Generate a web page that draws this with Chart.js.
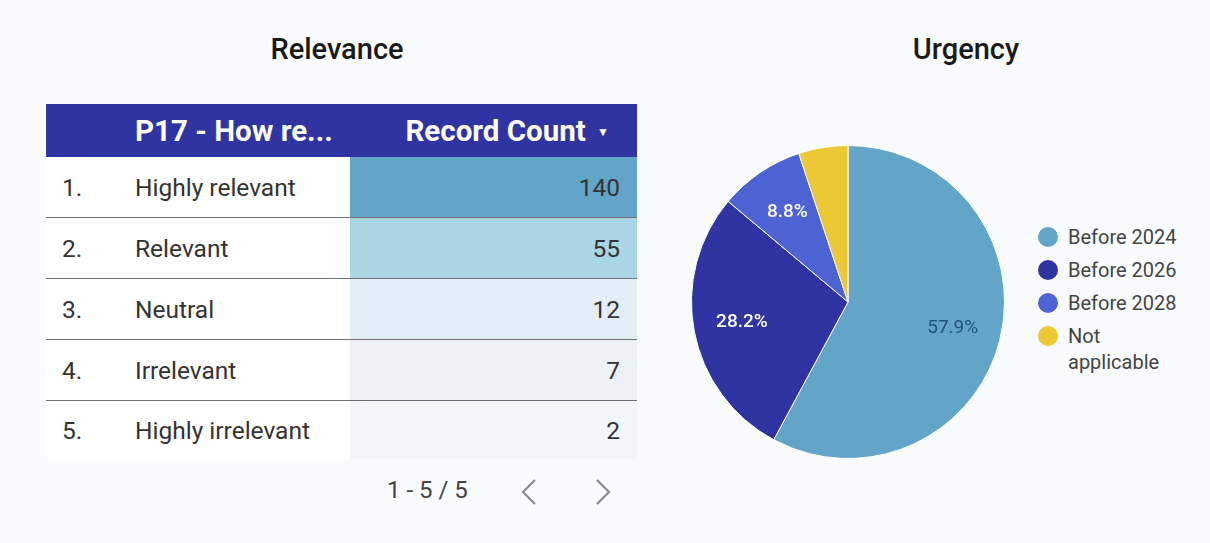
<!DOCTYPE html>
<html>
<head>
<meta charset="utf-8">
<script src="https://cdn.jsdelivr.net/npm/chart.js@4"></script>
<style>
  html, body { margin: 0; padding: 0; }
  body {
    width: 1210px; height: 543px; background: #f9fbfd; position: relative;
    font-family: Roboto, "Noto Sans", sans-serif; overflow: hidden;
  }
  .title { position: absolute; top: 32px; width: 300px; margin-left: -150px; text-align: center;
           font-size: 29px; font-weight: 500; color: #1a1a1a; }
  #tbl { position: absolute; left: 46px; top: 104px; width: 591px; border-collapse: collapse; table-layout: fixed; }
  #tbl th { background: #3034a3; color: #fff; font-weight: 700; font-size: 29.5px; height: 53px; padding: 0;
            white-space: nowrap; }
  #tbl td { height: 60px; padding: 0; font-size: 24.5px; color: #333; background: #fff; border-bottom: 1px solid #707070; }
  #tbl tr:last-child td { border-bottom: none; height: 58px; }
  .idx { padding-left: 16px !important; }
  .cnt { text-align: right; padding-right: 17px !important; }
  .pager { position: absolute; top: 476px; left: 387px; font-size: 24px; color: #444; }
  .chev { position: absolute; top: 478px; }
  #pieWrap { position: absolute; left: 688px; top: 142px; width: 320px; height: 320px; }
  #legend { position: absolute; left: 1038px; top: 224px; font-size: 20px; color: #444; }
  .li { display: flex; align-items: flex-start; margin-bottom: 7px; line-height: 26px; }
  .dot { width: 20px; height: 20px; border-radius: 50%; margin-top: 3px; margin-right: 10px; flex: none; }
</style>
</head>
<body>
<div class="title" style="left:337px">Relevance</div>
<div class="title" style="left:966px">Urgency</div>

<table id="tbl">
  <colgroup><col style="width:89px"><col style="width:215px"><col style="width:287px"></colgroup>
  <thead>
    <tr>
      <th></th>
      <th style="text-align:left">P17 - How re...</th>
      <th style="text-align:right;padding-right:28px">Record Count <span style="font-size:12px;vertical-align:5px;margin-left:4px">&#9660;</span></th>
    </tr>
  </thead>
  <tbody id="tbody"></tbody>
</table>
<div class="pager">1 - 5 / 5</div>
<svg class="chev" style="left:519px" width="20" height="28"><polyline points="16,2 4,14 16,26" fill="none" stroke="#8a8a8a" stroke-width="2.2"/></svg>
<svg class="chev" style="left:593px" width="20" height="28"><polyline points="4,2 16,14 4,26" fill="none" stroke="#8a8a8a" stroke-width="2.2"/></svg>

<div id="pieWrap"><canvas id="pie"></canvas></div>
<div id="legend"></div>

<script>
// Relevance table
const relevanceLabels = ['Highly relevant', 'Relevant', 'Neutral', 'Irrelevant', 'Highly irrelevant'];
const relevanceCounts = [140, 55, 12, 7, 2];
const countColors = ['#63a4c9', '#a9d5e4', '#e3eff6', '#ebf2f8', '#f1f6fa'];

// Urgency pie
const urgencyLabels = ['Before 2024', 'Before 2026', 'Before 2028', ['Not', 'applicable']];
const urgencyCounts = [125, 61, 19, 11];
const urgencyColors = ['#63a4c9', '#3034a3', '#4d62d3', '#ecc834'];
const labelColors = ['#1f5577', '#ffffff', '#ffffff', '#333333'];

const tbody = document.getElementById('tbody');
relevanceLabels.forEach((label, i) => {
    const tr = document.createElement('tr');
    tr.innerHTML = `<td class="idx">${i + 1}.</td><td class="lbl">${label}</td>` +
        `<td class="cnt" style="background:${countColors[i]}">${relevanceCounts[i]}</td>`;
    tbody.appendChild(tr);
});

// legend
const legend = document.getElementById('legend');
urgencyLabels.forEach((label, i) => {
    const text = Array.isArray(label) ? label.join('<br>') : label;
    const div = document.createElement('div');
    div.className = 'li';
    div.innerHTML = `<span class="dot" style="background:${urgencyColors[i]}"></span><span>${text}</span>`;
    legend.appendChild(div);
});

// percent labels inside slices
const sliceLabels = {
    id: 'sliceLabels',
    afterDatasetsDraw(chart) {
        const ctx = chart.ctx;
        const meta = chart.getDatasetMeta(0);
        const total = urgencyCounts.reduce((a, b) => a + b, 0);
        ctx.save();
        ctx.textAlign = 'center';
        ctx.textBaseline = 'middle';
        meta.data.forEach((arc, i) => {
            const pct = urgencyCounts[i] / total * 100;
            if (pct < 6) return;
            const mid = (arc.startAngle + arc.endAngle) / 2;
            const r = arc.outerRadius * 0.69;
            ctx.font = (i === 0 ? '400' : '500') + ' 19px Roboto';
            ctx.fillStyle = labelColors[i];
            ctx.fillText(pct.toFixed(1) + '%', arc.x + Math.cos(mid) * r, arc.y + Math.sin(mid) * r);
        });
        ctx.restore();
    }
};

new Chart(document.getElementById('pie'), {
    type: 'pie',
    data: {
        labels: urgencyLabels,
        datasets: [{
            data: urgencyCounts,
            backgroundColor: urgencyColors,
            borderColor: '#ffffff',
            borderWidth: 1
        }]
    },
    options: {
        responsive: true,
        maintainAspectRatio: false,
        animation: false,
        layout: { padding: 3 },
        plugins: {
            legend: { display: false },
            tooltip: { enabled: false }
        }
    },
    plugins: [sliceLabels]
});
</script>
</body>
</html>
